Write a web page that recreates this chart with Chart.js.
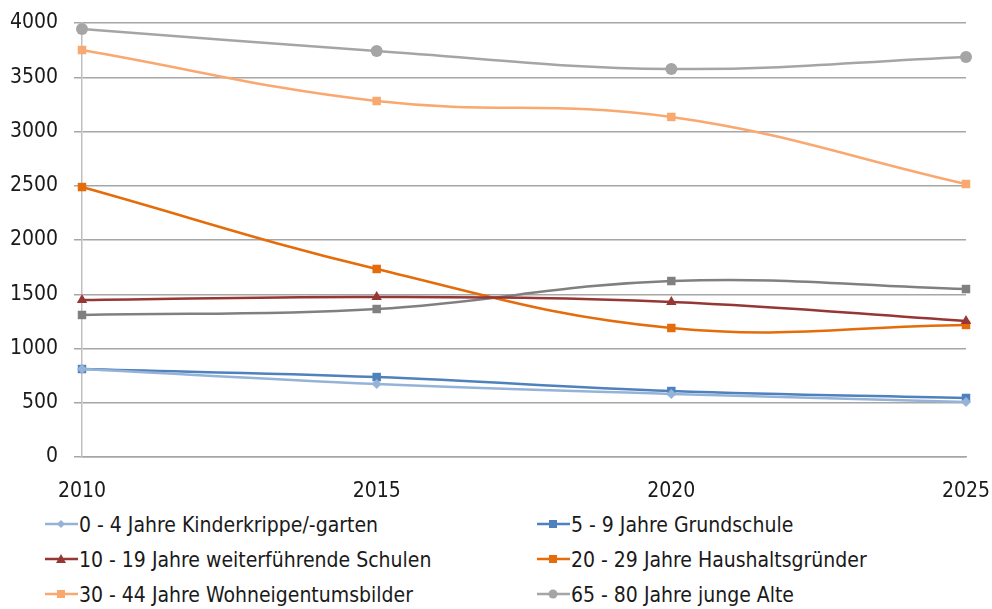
<!DOCTYPE html>
<html>
<head>
<meta charset="utf-8">
<script src="https://cdn.jsdelivr.net/npm/chart.js@4.4.1/dist/chart.umd.min.js"></script>
<style>
  html, body { margin: 0; padding: 0; background: #fff; }
  #wrap { position: relative; width: 992px; height: 609px; overflow: hidden; }
  #box { position: absolute; left: 0; top: 0; width: 992px; height: 505px; }
  .leg { position: absolute; font-family: "DejaVu Sans Condensed", sans-serif;
         font-size: 21px; color: #1a1a1a; white-space: nowrap; line-height: 30px; }
  .leg svg { vertical-align: middle; margin-right: 1px; position: relative; top: -2px; }
</style>
</head>
<body>
<div id="wrap">
  <div id="box"><canvas id="chart"></canvas></div>
  <div id="legend"></div>
</div>
<script>
// data
const years = ['2010', '2015', '2020', '2025'];
const kita = [811, 673, 581, 507];
const grundschule = [811, 737, 608, 544];
const weiterf = [1447, 1475, 1429, 1253];
const haushalt = [2488, 1733, 1189, 1217];
const wohneigentum = [3751, 3281, 3134, 2516];
const mittleres = [1309, 1364, 1622, 1548];
const jungeAlte = [3944, 3742, 3576, 3687];

const series = [
  { label: '0 - 4 Jahre Kinderkrippe/-garten', data: kita, color: '#95b3d7', point: 'rectRot', r: 5, legend: [45, 510] },
  { label: '5 - 9 Jahre Grundschule', data: grundschule, color: '#4f81bd', point: 'rect', r: 6, legend: [537, 510] },
  { label: '10 - 19 Jahre weiterführende Schulen', data: weiterf, color: '#953735', point: 'triangle', r: 6, legend: [45, 545] },
  { label: '20 - 29 Jahre Haushaltsgründer', data: haushalt, color: '#e46c0a', point: 'rect', r: 6, legend: [537, 545] },
  { label: '30 - 44 Jahre Wohneigentumsbilder', data: wohneigentum, color: '#f9a870', point: 'rect', r: 6, legend: [45, 580] },
  { label: '45 - 64 Jahre', data: mittleres, color: '#808080', point: 'rect', r: 6, legend: null },
  { label: '65 - 80 Jahre junge Alte', data: jungeAlte, color: '#a5a5a5', point: 'circle', r: 6, legend: [537, 580] }
];

const tickFont = { family: '"DejaVu Sans Condensed", sans-serif', size: 21 };

new Chart(document.getElementById('chart'), {
  type: 'line',
  data: {
    labels: years,
    datasets: series.map(s => ({
      label: s.label,
      data: s.data,
      borderColor: s.color,
      backgroundColor: s.color,
      borderWidth: 2.5,
      tension: 0.4,
      pointStyle: s.point,
      pointRadius: s.r,
      pointBorderWidth: 0
    }))
  },
  options: {
    responsive: true,
    maintainAspectRatio: false,
    animation: false,
    layout: { padding: { top: 23, right: 26, left: 0, bottom: 0 } },
    plugins: { legend: { display: false }, tooltip: { enabled: false } },
    scales: {
      x: {
        offset: false,
        grid: { display: false },
        border: { display: true, color: '#a6a6a6', width: 1.5 },
        ticks: { font: tickFont, color: '#1a1a1a', padding: 14, maxRotation: 0 },
        afterFit: s => { s.height = 48; s.paddingLeft = 0; s.paddingRight = 0; }
      },
      y: {
        min: 0, max: 4000,
        grid: { color: '#a6a6a6', lineWidth: 1.5, tickLength: 8 },
        border: { display: true, color: '#bfbfbf', width: 1.5 },
        ticks: { stepSize: 500, font: tickFont, color: '#1a1a1a', padding: 16,
                 callback: v => String(v) },
        afterFit: s => { s.width = 82; s.paddingTop = 0; s.paddingBottom = 0; }
      }
    }
  }
});

// legend in two columns, as in the reference
const legendEl = document.getElementById('legend');
series.forEach(s => {
  if (!s.legend) return;
  const d = document.createElement('div');
  d.className = 'leg';
  d.style.left = s.legend[0] + 'px';
  d.style.top = s.legend[1] + 'px';
  let mark = '';
  const c = s.color;
  if (s.point === 'rectRot') mark = `<polygon points="16,5 20,9 16,13 12,9" fill="${c}"/>`;
  else if (s.point === 'rect') mark = `<rect x="12" y="5" width="8" height="8" fill="${c}"/>`;
  else if (s.point === 'triangle') mark = `<polygon points="16,4 21,13 11,13" fill="${c}"/>`;
  else mark = `<circle cx="16" cy="9" r="4.5" fill="${c}"/>`;
  d.innerHTML = `<svg width="33" height="18"><line x1="0" y1="9" x2="33" y2="9" stroke="${c}" stroke-width="2.5"/>${mark}</svg>` + s.label;
  legendEl.appendChild(d);
});
</script>
</body>
</html>
